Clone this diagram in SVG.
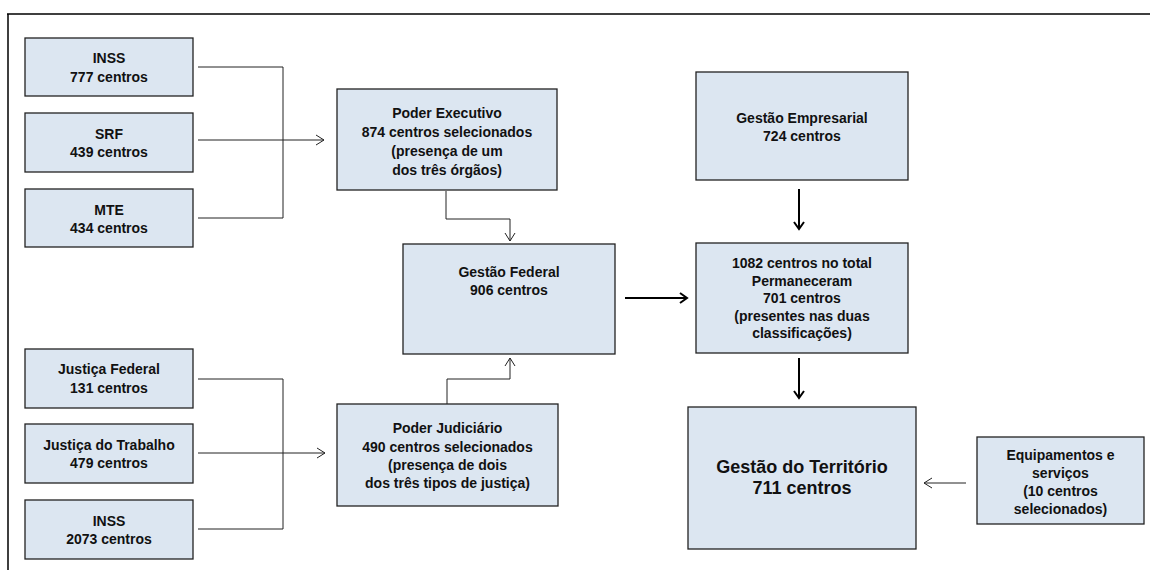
<svg xmlns="http://www.w3.org/2000/svg" width="1150" height="570" viewBox="0 0 1150 570">
<defs>
<style>
.box{fill:#dce6f1;stroke:#222;stroke-width:1.3}
.t{font-family:"Liberation Sans",Arial,sans-serif;font-weight:bold;font-size:14px;fill:#111;text-anchor:middle}
.big{font-size:18px}
.c{fill:none;stroke:#222;stroke-width:1}
.ck{fill:none;stroke:#000;stroke-width:2}
</style>
<marker id="a" markerUnits="userSpaceOnUse" markerWidth="14" markerHeight="14" viewBox="-10 -7 12 14" refX="0" refY="0" orient="auto">
<path d="M-8,-5 L0,0 L-8,5" fill="none" stroke="#222" stroke-width="1"/>
</marker>
<marker id="ak" markerUnits="userSpaceOnUse" markerWidth="14" markerHeight="14" viewBox="-10 -7 12 14" refX="0" refY="0" orient="auto">
<path d="M-7,-5 L0,0 L-7,5" fill="none" stroke="#000" stroke-width="2"/>
</marker>
</defs>
<rect width="1150" height="570" fill="#fff"/>
<g id="frame">
<path d="M7,14 H1150 M8,14 V570" fill="none" stroke="#000" stroke-width="1.5"/>
</g>
<g id="connectors">
<path class="c" d="M198,67 H283 V218 H198"/>
<path class="c" d="M198,140 H324" marker-end="url(#a)"/>
<path class="c" d="M198,379 H283 V529 H198"/>
<path class="c" d="M198,453 H325" marker-end="url(#a)"/>
<path class="c" d="M446,191 V219 H510 V241" marker-end="url(#a)"/>
<path class="c" d="M447,404 V379 H510 V358" marker-end="url(#a)"/>
<path class="ck" d="M625,298 H687" marker-end="url(#ak)"/>
<path class="ck" d="M799,189 V229" marker-end="url(#ak)"/>
<path class="ck" d="M799,358 V398" marker-end="url(#ak)"/>
<path class="c" d="M966,483 H924" marker-end="url(#a)"/>
</g>
<g id="inss1">
<rect class="box" x="25" y="38" width="168" height="58"/>
<text class="t" x="109" y="63">INSS</text>
<text class="t" x="109" y="82">777 centros</text>
</g>
<g id="srf">
<rect class="box" x="25" y="113" width="168" height="59"/>
<text class="t" x="109" y="139">SRF</text>
<text class="t" x="109" y="157">439 centros</text>
</g>
<g id="mte">
<rect class="box" x="25" y="189" width="168" height="58"/>
<text class="t" x="109" y="215">MTE</text>
<text class="t" x="109" y="233">434 centros</text>
</g>
<g id="poder-executivo">
<rect class="box" x="337" y="89" width="220" height="101"/>
<text class="t" x="447" y="118">Poder Executivo</text>
<text class="t" x="447" y="137">874 centros selecionados</text>
<text class="t" x="447" y="156">(presença de um</text>
<text class="t" x="447" y="175">dos três órgãos)</text>
</g>
<g id="gestao-federal">
<rect class="box" x="403" y="244" width="212" height="110"/>
<text class="t" x="509" y="277">Gestão Federal</text>
<text class="t" x="509" y="295">906 centros</text>
</g>
<g id="justica-federal">
<rect class="box" x="25" y="349" width="168" height="59"/>
<text class="t" x="109" y="374">Justiça Federal</text>
<text class="t" x="109" y="393">131 centros</text>
</g>
<g id="justica-trabalho">
<rect class="box" x="25" y="424" width="168" height="59"/>
<text class="t" x="109" y="450">Justiça do Trabalho</text>
<text class="t" x="109" y="468">479 centros</text>
</g>
<g id="inss2">
<rect class="box" x="25" y="500" width="168" height="59"/>
<text class="t" x="109" y="526">INSS</text>
<text class="t" x="109" y="544">2073 centros</text>
</g>
<g id="poder-judiciario">
<rect class="box" x="337" y="404" width="221" height="102"/>
<text class="t" x="447.5" y="433">Poder Judiciário</text>
<text class="t" x="447.5" y="452">490 centros selecionados</text>
<text class="t" x="447.5" y="470">(presença de dois</text>
<text class="t" x="447.5" y="488">dos três tipos de justiça)</text>
</g>
<g id="gestao-empresarial">
<rect class="box" x="696" y="72" width="212" height="108"/>
<text class="t" x="802" y="123">Gestão Empresarial</text>
<text class="t" x="802" y="141">724 centros</text>
</g>
<g id="total">
<rect class="box" x="696" y="243" width="212" height="110"/>
<text class="t" x="802" y="268">1082 centros no total</text>
<text class="t" x="802" y="285.5">Permaneceram</text>
<text class="t" x="802" y="303">701 centros</text>
<text class="t" x="802" y="320.5">(presentes nas duas</text>
<text class="t" x="802" y="338">classificações)</text>
</g>
<g id="gestao-territorio">
<rect class="box" x="688" y="407" width="228" height="142"/>
<text class="t big" x="802" y="473">Gestão do Território</text>
<text class="t big" x="802" y="494">711 centros</text>
</g>
<g id="equipamentos">
<rect class="box" x="977" y="437" width="167" height="87"/>
<text class="t" x="1060.5" y="460">Equipamentos e</text>
<text class="t" x="1060.5" y="478">serviços</text>
<text class="t" x="1060.5" y="496">(10 centros</text>
<text class="t" x="1060.5" y="514">selecionados)</text>
</g>
</svg>
